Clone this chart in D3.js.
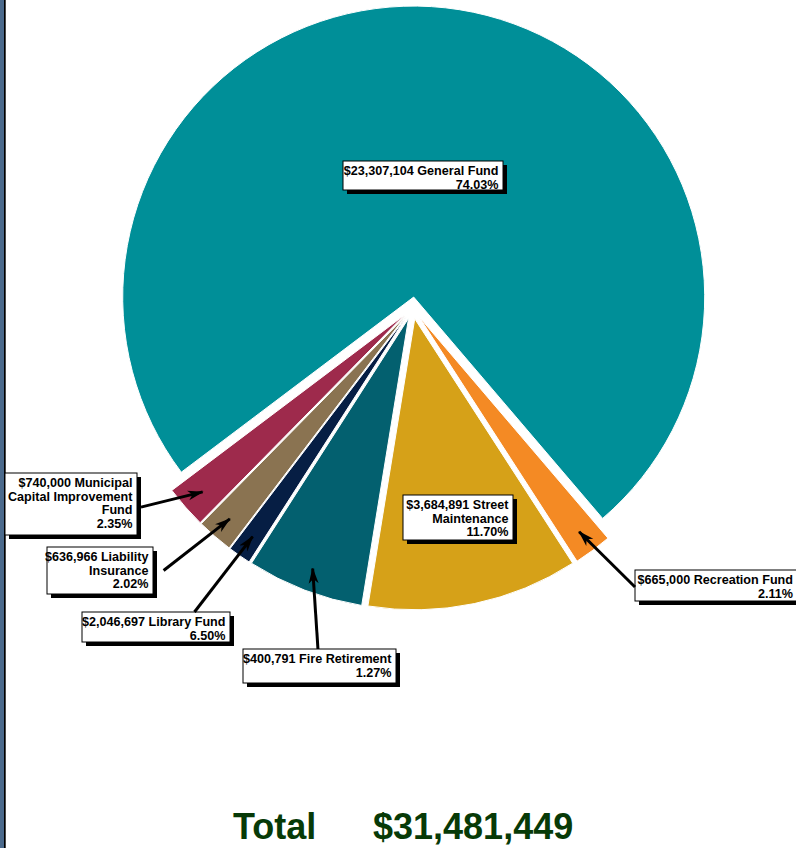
<!DOCTYPE html>
<html>
<head>
<meta charset="utf-8">
<script src="https://cdn.jsdelivr.net/npm/d3@7"></script>
<style>
  html, body { margin: 0; padding: 0; background: #fff; }
  svg { display: block; }
</style>
</head>
<body>
<svg id="chart" width="796" height="848"></svg>
<script>
// ---- data ----
const categories = ["General Fund", "Recreation Fund", "Street\nMaintenance", "Library Fund",
                    "Fire Retirement", "Liability\nInsurance", "Municipal\nCapital Improvement\nFund"];
const values = [23307104, 665000, 3684891, 2046697, 400791, 636966, 740000];
const colors = ["#008F98", "#F48A24", "#D6A118", "#03606F", "#061E44", "#8A7351", "#9E2A4C"];
// slice each label's arrow points to (as drawn in the original)
const labelTarget = [null, 1, null, 4, 3, 5, 6];
const totalLabel = "Total";

// ---- layout ----
const W = 796, H = 848;
const cx = 412.5, cy = 308, R = 291, explode = 11;
const startDeg = 233;
// label boxes [x, y, w, h]
const boxes = [
  [343, 161, 160, 29],
  [635, 570, 170, 31],
  [403, 495, 110, 45],
  [82, 612, 148, 30],
  [243, 649, 153, 34],
  [47, 547, 106, 47],
  [5, 473, 132, 62]
];
const anchors = [null, [0, 0.55], null, [0.76, 0], [0.49, 0], [1.1, 0.5], [1.03, 0.55]];

const svg = d3.select("#chart");
const total = d3.sum(values);
const fmt = d3.format(",");
const pct = d3.format(".2%");

// left frame strip
svg.append("rect").attr("x", 0).attr("y", 0).attr("width", 4).attr("height", H).attr("fill", "#4B6A8C");
svg.append("rect").attr("x", 4).attr("y", 0).attr("width", 1.7).attr("height", H).attr("fill", "#000");

const defs = svg.append("defs");
defs.append("marker")
  .attr("id", "arrow").attr("markerUnits", "userSpaceOnUse")
  .attr("viewBox", "0 0 16 11").attr("refX", 15).attr("refY", 5.5)
  .attr("markerWidth", 16).attr("markerHeight", 11).attr("orient", "auto")
  .append("path").attr("d", "M0,0.5 L16,5.5 L0,10.5 L4.5,5.5 Z").attr("fill", "#000");

const a0 = startDeg * Math.PI / 180;
const pie = d3.pie().sort(null).startAngle(a0).endAngle(a0 + 2 * Math.PI);
const arcs = pie(values);
const arc = d3.arc().innerRadius(0).outerRadius(R);
const tipArc = d3.arc().innerRadius(268).outerRadius(268);

function offset(d) {
  const m = (d.startAngle + d.endAngle) / 2;
  return [explode * Math.sin(m), -explode * Math.cos(m)];
}

const g = svg.append("g").attr("transform", `translate(${cx},${cy})`);
g.selectAll("path.slice").data(arcs).join("path")
  .attr("class", "slice")
  .attr("d", arc)
  .attr("transform", d => { const o = offset(d); return `translate(${o[0]},${o[1]})`; })
  .attr("fill", (d, i) => colors[i])
  .attr("stroke", "#fff").attr("stroke-width", 1);

// labels
const lab = svg.append("g").attr("font-family", "'Liberation Sans', Arial, sans-serif")
  .attr("font-weight", "bold").attr("font-size", 12.6);

categories.forEach((name, i) => {
  const parts = name.split("\n");
  const lines = ["$" + fmt(values[i]) + " " + parts[0], ...parts.slice(1), pct(values[i] / total)];
  const [bx, by, bw, bh] = boxes[i];
  // arrow
  if (labelTarget[i] !== null) {
    const t = arcs[labelTarget[i]];
    const c = tipArc.centroid(t), o = offset(t);
    const tip = [cx + c[0] + o[0], cy + c[1] + o[1]];
    const an = anchors[i];
    const start = [bx + an[0] * bw, by + an[1] * bh];
    svg.append("line")
      .attr("x1", start[0]).attr("y1", start[1]).attr("x2", tip[0]).attr("y2", tip[1])
      .attr("stroke", "#000").attr("stroke-width", 3).attr("marker-end", "url(#arrow)");
  }
  lab.append("rect").attr("x", bx + 4).attr("y", by + 4).attr("width", bw).attr("height", bh).attr("fill", "#000");
  lab.append("rect").attr("x", bx).attr("y", by).attr("width", bw).attr("height", bh)
    .attr("fill", "#fff").attr("stroke", "#000").attr("stroke-width", 1);
  const tx = Math.min(bx + bw - 4.5, W - 3);
  lines.forEach((ln, j) => {
    lab.append("text").attr("x", tx).attr("y", by + 13.8 + j * 13.8)
      .attr("text-anchor", "end").attr("fill", "#000").text(ln);
  });
});

// total
const tg = svg.append("g").attr("font-family", "'Liberation Sans', Arial, sans-serif")
  .attr("font-weight", "bold").attr("font-size", 36).attr("fill", "#073A07");
tg.append("text").attr("x", 233).attr("y", 839).text(totalLabel);
tg.append("text").attr("x", 373).attr("y", 839).text("$" + fmt(total));
</script>
</body>
</html>
